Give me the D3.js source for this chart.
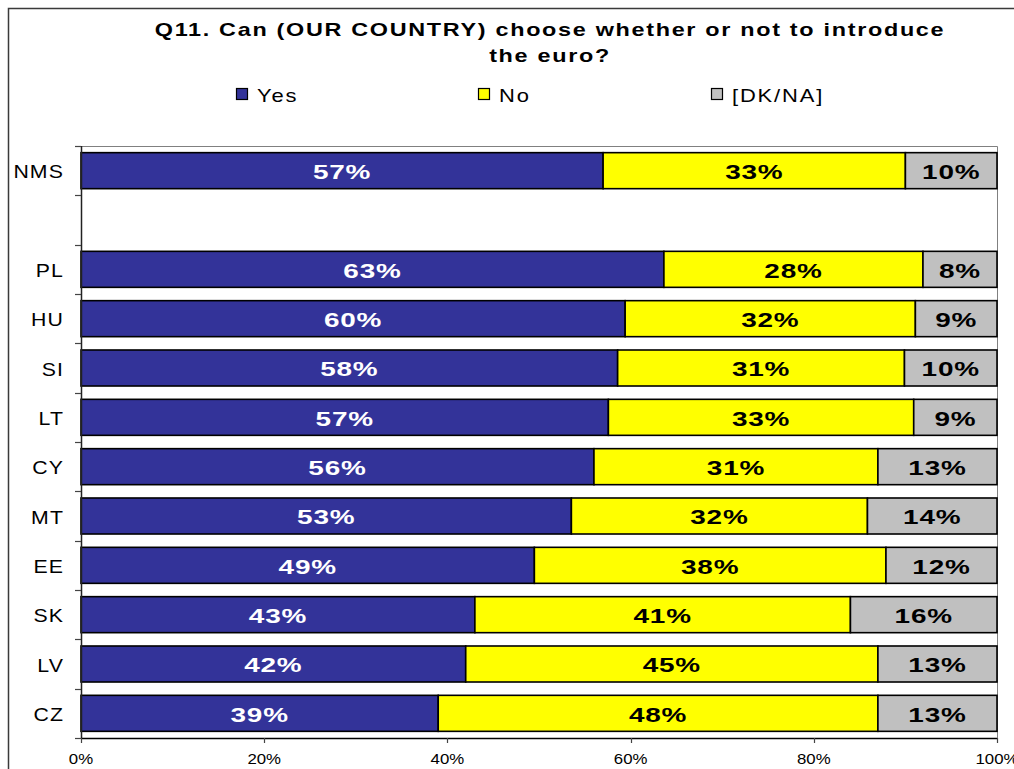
<!DOCTYPE html>
<html>
<head>
<meta charset="utf-8">
<script src="https://cdn.jsdelivr.net/npm/d3@7"></script>
<style>
  html, body { margin: 0; padding: 0; background: #fff; }
  svg { display: block; }
  text { font-family: "Liberation Sans", Arial, sans-serif; }
</style>
</head>
<body>
<svg id="chart" width="1014" height="769"></svg>
<script>
// Survey answers per country (percent, as printed on the bars)
const countries = ["NMS", "PL", "HU", "SI", "LT", "CY", "MT", "EE", "SK", "LV", "CZ"];
const yesValues = [57, 63, 60, 58, 57, 56, 53, 49, 43, 42, 39];
const noValues  = [33, 28, 32, 31, 33, 31, 32, 38, 41, 45, 48];
const dkValues  = [10,  8,  9, 10,  9, 13, 14, 12, 16, 13, 13];

// Row order on the axis; an empty slot separates the NMS average from the countries
const rowSlots = ["NMS", "__gap__", "PL", "HU", "SI", "LT", "CY", "MT", "EE", "SK", "LV", "CZ"];

const seriesKeys   = ["yes", "no", "dk"];
const seriesLabels = ["Yes", "No", "[DK/NA]"];
const seriesColors = ["#333399", "#FFFF00", "#C0C0C0"];
const labelColors  = ["#FFFFFF", "#000000", "#000000"];

const xTicks = [0, 0.2, 0.4, 0.6, 0.8, 1];

const titleLines = ["Q11. Can (OUR COUNTRY) choose whether or not to introduce", "the euro?"];

const svg = d3.select("#chart");

// Text helper: glyphs are drawn slightly widened, as in the original export
function wideText(sel, px, py, sx) {
  return sel.attr("transform", `translate(${px},${py}) scale(${sx},1)`);
}

// Outer frame
svg.append("rect")
  .attr("x", 8.5).attr("y", 8.5)
  .attr("width", 1100).attr("height", 900)
  .attr("fill", "none").attr("stroke", "#3a3a3a").attr("stroke-width", 1.5);

// Title
titleLines.forEach((line, i) => {
  const t = svg.append("text")
    .attr("text-anchor", "middle")
    .attr("font-weight", "bold")
    .attr("font-size", 18)
    .attr("letter-spacing", 1.3)
    .attr("fill", "#000")
    .text(line);
  wideText(t, 550, 36 + i * 26, 1.3);
});

// Legend
const legendX = [236, 478, 711];
seriesLabels.forEach((lab, i) => {
  svg.append("rect")
    .attr("x", legendX[i] + 0.5).attr("y", 88.5)
    .attr("width", 11).attr("height", 11)
    .attr("fill", seriesColors[i]).attr("stroke", "#000").attr("stroke-width", 1.2);
  const t = svg.append("text")
    .attr("font-size", 18)
    .attr("letter-spacing", 1.5)
    .attr("fill", "#000")
    .text(lab);
  wideText(t, legendX[i] + 21, 102, 1.22);
});

// Plot area
const plotLeft = 81, plotRight = 997, plotTop = 146, plotBottom = 738;

const x = d3.scaleLinear().domain([0, 1]).range([plotLeft, plotRight]);
const yRows = d3.scaleBand().domain(rowSlots).range([plotTop, plotBottom]).padding(0);
const yBars = d3.scaleBand().domain(rowSlots).range([plotTop, plotBottom])
  .paddingInner(0.27).paddingOuter(0.135);

// Plot frame: light top/right edges
svg.append("path")
  .attr("d", `M${plotLeft},${plotTop + 0.5}H${plotRight + 0.5}V${plotBottom}`)
  .attr("fill", "none").attr("stroke", "#808080").attr("stroke-width", 1);

// Stacked (100%) data
const table = countries.map((c, i) => ({ country: c, yes: yesValues[i], no: noValues[i], dk: dkValues[i] }));
const stacked = d3.stack().keys(seriesKeys).offset(d3.stackOffsetExpand)(table);

stacked.forEach((layer, si) => {
  const g = svg.append("g");
  g.selectAll("rect")
    .data(layer)
    .join("rect")
    .attr("x", d => x(d[0]))
    .attr("y", d => yBars(d.data.country))
    .attr("width", d => x(d[1]) - x(d[0]))
    .attr("height", yBars.bandwidth())
    .attr("fill", seriesColors[si])
    .attr("stroke", "#000")
    .attr("stroke-width", 1.6);
});

// Value labels
stacked.forEach((layer, si) => {
  layer.forEach(d => {
    const t = svg.append("text")
      .attr("text-anchor", "middle")
      .attr("dominant-baseline", "central")
      .attr("font-weight", "bold")
      .attr("font-size", 21)
      .attr("letter-spacing", 0.6)
      .attr("fill", labelColors[si])
      .text(d.data[seriesKeys[si]] + "%");
    wideText(t, (x(d[0]) + x(d[1])) / 2, yBars(d.data.country) + yBars.bandwidth() / 2 + 1, 1.33);
  });
});

// Y axis: line, ticks at row boundaries, category labels
const yAxisG = svg.append("g");
yAxisG.append("line")
  .attr("x1", plotLeft + 0.5).attr("x2", plotLeft + 0.5)
  .attr("y1", plotTop).attr("y2", plotBottom)
  .attr("stroke", "#222").attr("stroke-width", 1.5);
const boundaries = rowSlots.map(r => yRows(r)).concat([plotBottom]);
yAxisG.selectAll("line.tick")
  .data(boundaries)
  .join("line")
  .attr("class", "tick")
  .attr("x1", plotLeft - 6).attr("x2", plotLeft)
  .attr("y1", d => Math.round(d) + 0.5).attr("y2", d => Math.round(d) + 0.5)
  .attr("stroke", "#444").attr("stroke-width", 1.2);
countries.forEach(c => {
  const t = svg.append("text")
    .attr("text-anchor", "end")
    .attr("dominant-baseline", "central")
    .attr("font-size", 19)
    .attr("letter-spacing", 1)
    .attr("fill", "#000")
    .text(c);
  wideText(t, 64, yRows(c) + yRows.bandwidth() / 2 + 1, 1.12);
});

// X axis
const xAxisG = svg.append("g");
xAxisG.append("line")
  .attr("x1", plotLeft).attr("x2", plotRight)
  .attr("y1", plotBottom + 0.5).attr("y2", plotBottom + 0.5)
  .attr("stroke", "#000").attr("stroke-width", 1.5);
xAxisG.selectAll("line.tick")
  .data(xTicks)
  .join("line")
  .attr("class", "tick")
  .attr("x1", d => Math.round(x(d)) + 0.5).attr("x2", d => Math.round(x(d)) + 0.5)
  .attr("y1", plotBottom).attr("y2", plotBottom + 5)
  .attr("stroke", "#444").attr("stroke-width", 1.2);
const fmt = d3.format(".0%");
xTicks.forEach(v => {
  const t = svg.append("text")
    .attr("text-anchor", "middle")
    .attr("font-size", 15)
    .attr("fill", "#000")
    .text(fmt(v));
  wideText(t, x(v), 764, 1.12);
});
</script>
</body>
</html>
